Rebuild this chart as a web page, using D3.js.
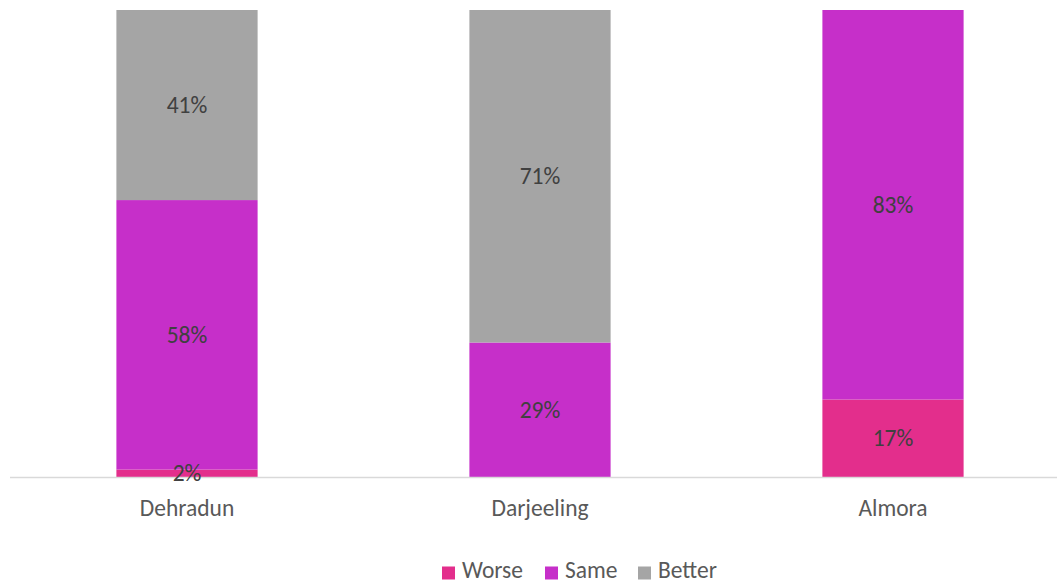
<!DOCTYPE html>
<html><head><meta charset="utf-8">
<script src="https://cdn.jsdelivr.net/npm/d3@7"></script>
<style>body{margin:0;background:#fff}svg{display:block}</style>
</head><body>
<svg id="c" width="1057" height="583"></svg>
<script>
const categories = ["Dehradun", "Darjeeling", "Almora"];
const seriesNames = ["Worse", "Same", "Better"];
const worse = [1.6, 0, 16.6];
const same = [57.7, 28.8, 83.4];
const better = [40.7, 71.2, 0];
const colors = ["#E32E8C", "#C62FC9", "#A5A5A5"];

const svg = d3.select("#c");
const font = "Carlito, Lato, 'Open Sans', sans-serif";
const fs = 23.5;
const rows = categories.map((c, i) => ({cat: c, Worse: worse[i], Same: same[i], Better: better[i]}));
const stack = d3.stack().keys(seriesNames)(rows);

const x = d3.scaleBand().domain(categories).range([10.5, 1069.5]).paddingInner(0.6).paddingOuter(0.3);
const y = d3.scaleLinear().domain([0, 100]).range([477, 10]);

stack.forEach((layer, li) => {
  const g = svg.append("g");
  g.selectAll("rect").data(layer.filter(d => d[1] - d[0] > 0)).join("rect")
    .attr("x", d => x(d.data.cat)).attr("width", x.bandwidth())
    .attr("y", d => y(d[1])).attr("height", d => y(d[0]) - y(d[1]))
    .attr("fill", colors[li]);
});

// axis line
svg.append("line").attr("x1", 10).attr("x2", 1057).attr("y1", 477.5).attr("y2", 477.5)
  .attr("stroke", "#D9D9D9").attr("stroke-width", 1.5);

// data labels
stack.forEach((layer, li) => {
  svg.append("g").selectAll("text").data(layer.filter(d => d[1] - d[0] > 0)).join("text")
    .attr("x", d => x(d.data.cat) + x.bandwidth() / 2)
    .attr("y", d => Math.min(y((d[0] + d[1]) / 2), 475) + 8)
    .attr("text-anchor", "middle").attr("font-family", font).attr("font-size", fs)
    .attr("fill", "#404040").text(d => Math.round(d[1] - d[0]) + "%");
});

// category labels
svg.append("g").selectAll("text").data(categories).join("text")
  .attr("x", d => x(d) + x.bandwidth() / 2).attr("y", 516)
  .attr("text-anchor", "middle").attr("font-family", font).attr("font-size", fs)
  .attr("fill", "#595959").text(d => d);

// legend
const legendX = [442, 545, 638];
const lg = svg.append("g");
seriesNames.forEach((s, i) => {
  lg.append("rect").attr("x", legendX[i]).attr("y", 566.5).attr("width", 13).attr("height", 13).attr("fill", colors[i]);
  lg.append("text").attr("x", legendX[i] + 20).attr("y", 578).attr("font-family", font).attr("font-size", fs)
    .attr("fill", "#595959").text(s);
});
</script>
</body></html>
